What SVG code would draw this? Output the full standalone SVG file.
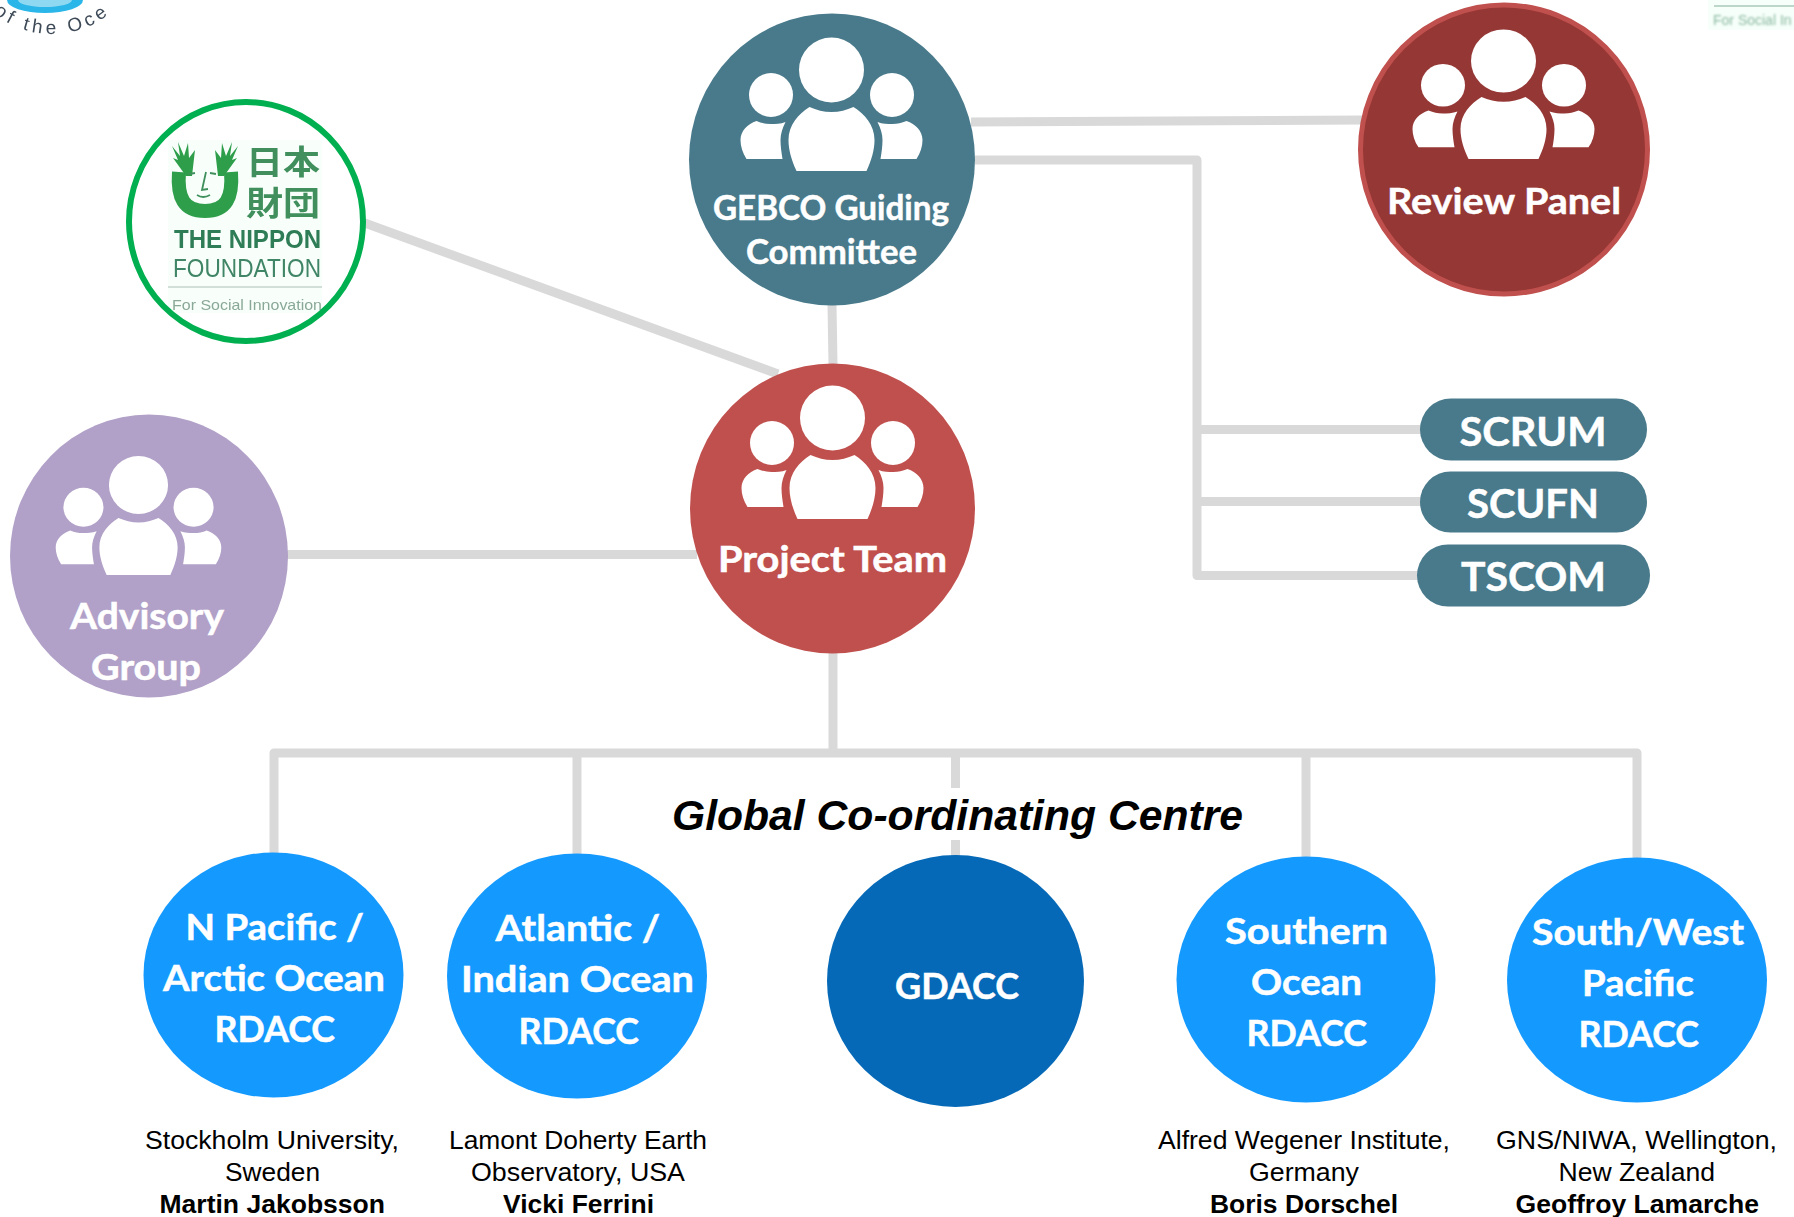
<svg xmlns="http://www.w3.org/2000/svg" xmlns:xlink="http://www.w3.org/1999/xlink" width="1794" height="1217" viewBox="0 0 1794 1217">
<style>
.c{fill:none;stroke:#d9d9d9;stroke-width:9;stroke-linejoin:round}
.w{font-family:"Lato","Noto Sans",sans-serif;font-weight:700;fill:#fff;stroke:#fff;stroke-width:.5}
.l{font-size:36px}
.p{font-size:41px}
.t{font-family:"Liberation Sans",Arial,sans-serif;font-size:25.500px;fill:#000}
.b{font-weight:700}
.teal{fill:#487a8b}
.blue{fill:#1499ff}
.n{font-family:"Liberation Sans",Arial,sans-serif}
</style>
<defs>
<filter id="soft" x="-10%" y="-10%" width="120%" height="120%"><feGaussianBlur stdDeviation="0.7"/></filter>
<filter id="softer" x="-10%" y="-30%" width="120%" height="160%"><feGaussianBlur stdDeviation="1"/></filter>
<g id="people" fill="#fff">
<circle cx="0" cy="0" r="32.500"/>
<circle cx="-60.500" cy="25" r="22"/>
<circle cx="60.500" cy="25" r="22"/>
<path d="M-35,101 C-40,90 -43,80 -43,70 C-43,55 -33,44 -22,37 C-15,40 -8,42 0,42 C8,42 15,40 22,37 C33,44 43,55 43,70 C43,80 40,90 35,101 Z"/>
<path d="M-85,89 C-89,83 -91,76 -91,70 C-91,61 -84,54 -75,51 C-70,53 -66,54 -61,54 C-56,54 -51,54 -46,52 C-49,58 -51,64 -51,70 C-51,76 -50,83 -49,89 Z"/>
<path d="M85,89 C89,83 91,76 91,70 C91,61 84,54 75,51 C70,53 66,54 61,54 C56,54 51,54 46,52 C49,58 51,64 51,70 C51,76 50,83 49,89 Z"/>
</g>
<path id="arc" d="M-36,-50 A88,84 0 0 0 140,-50"/>
</defs>
<rect width="1794" height="1217" fill="#fff"/>

<g id="connectors">
<path class="c" d="M971,122 L1362,120"/>
<path class="c" d="M975,160 H1197 V575.500 H1420"/>
<path class="c" d="M1197,429.500 H1422"/>
<path class="c" d="M1197,501.500 H1422"/>
<path class="c" d="M832,305 L833,364"/>
<path class="c" d="M362,222 L778,374"/>
<path class="c" d="M286,554.500 H697"/>
<path class="c" d="M833,652 V753"/>
<path class="c" d="M274,856 V753 H1637 V858"/>
<path class="c" d="M577,856 V753"/>
<path class="c" d="M1306,858 V753"/>
<path class="c" d="M955.500,753 V788"/>
<path class="c" d="M955.500,840 V858"/>
</g>

<g id="logo-ocean">
<path d="M7,0 A38,13 0 0 0 83,0 Z" fill="#2ab6e8"/>
<path d="M18,0 A27,7 0 0 0 72,0 Z" fill="#8fd8f2"/>
<text class="n" font-size="19" fill="#3d4a57" letter-spacing="4" filter="url(#soft)"><textPath href="#arc" xlink:href="#arc" startOffset="53">t of the Oce</textPath></text>
</g>

<g id="logo-right">
<rect x="1708" y="0" width="86" height="30" fill="#f6fffa"/>
<line x1="1714" y1="6" x2="1794" y2="6" stroke="#a9c9b8" stroke-width="1.500"/>
<text class="n" x="1713" y="25" font-size="14" fill="#8ab8a0" filter="url(#softer)">For Social In</text>
</g>

<g id="nippon">
<ellipse cx="246" cy="221.500" rx="117" ry="119.500" fill="#fff"/>
<rect x="168" y="140" width="154" height="173" fill="#f8fffb"/>
<g filter="url(#soft)">
<path d="M179,172 C177,198 184,211 205,211 C226,211 233,198 231,172" fill="none" stroke="#2f9e4c" stroke-width="14"/>
<path d="M186,176 L173,158 L178,160 L172,146 L180,156 L178,142 L184,156 L188,143 L189,158 L195,150 L192,176 Z" fill="#2f9e4c"/>
<path d="M224,176 L237,158 L232,160 L238,146 L230,156 L232,142 L226,156 L222,143 L221,158 L215,150 L218,176 Z" fill="#2f9e4c"/>
<path d="M189,174 L195,173 M210,173 L216,174 M206,172 L202,190 L208,189 M197,195 Q203,199 210,195" fill="none" stroke="#3f8f5c" stroke-width="1.800"/>
<text x="246" y="174" font-family="'Noto Sans CJK JP',sans-serif" font-size="33" font-weight="700" fill="#3f8f5c" textLength="74" lengthAdjust="spacingAndGlyphs">日本</text>
<text x="246" y="215" font-family="'Noto Sans CJK JP',sans-serif" font-size="33" font-weight="700" fill="#3f8f5c" textLength="74" lengthAdjust="spacingAndGlyphs">財団</text>
<text class="n b" x="174" y="248" font-size="25" fill="#2f7d57" textLength="147" lengthAdjust="spacingAndGlyphs">THE NIPPON</text>
<text class="n" x="173" y="277" font-size="25" fill="#3f8565" textLength="148" lengthAdjust="spacingAndGlyphs">FOUNDATION</text>
<line x1="168" y1="287" x2="322" y2="287" stroke="#c6d4cc" stroke-width="1.500"/>
<text class="n" x="172" y="310" font-size="15" fill="#8aa897" textLength="150" lengthAdjust="spacingAndGlyphs">For Social Innovation</text>
</g>
<ellipse cx="246" cy="221.500" rx="117" ry="119.500" fill="none" stroke="#00b050" stroke-width="6"/>
</g>

<g id="gebco">
<ellipse cx="832" cy="159.500" rx="143" ry="146" class="teal"/>
<use href="#people" xlink:href="#people" x="831.500" y="70"/>
<text class="w" x="713" y="219.500" font-size="34" textLength="236" lengthAdjust="spacingAndGlyphs">GEBCO Guiding</text>
<text class="w" x="746" y="264" font-size="34" textLength="171" lengthAdjust="spacingAndGlyphs">Committee</text>
</g>

<g id="review">
<ellipse cx="1504" cy="149.500" rx="143.500" ry="144.500" fill="#953735" stroke="#c0504d" stroke-width="5"/>
<use href="#people" xlink:href="#people" transform="translate(1503.500,61) scale(1,.97)"/>
<text class="w" x="1387" y="214" font-size="37" textLength="234" lengthAdjust="spacingAndGlyphs">Review Panel</text>
</g>

<g id="project">
<ellipse cx="832.500" cy="508.500" rx="142.500" ry="145" fill="#c0504d"/>
<use href="#people" xlink:href="#people" x="832.500" y="418"/>
<text class="w" x="718" y="572" font-size="36" textLength="229" lengthAdjust="spacingAndGlyphs">Project Team</text>
</g>

<g id="advisory">
<ellipse cx="149" cy="556" rx="139" ry="141.500" fill="#b1a0c7"/>
<use href="#people" xlink:href="#people" transform="translate(138.500,485) scale(.91,.89)"/>
<text class="w" x="70" y="629" font-size="36" textLength="154" lengthAdjust="spacingAndGlyphs">Advisory</text>
<text class="w" x="91" y="680" font-size="36" textLength="110" lengthAdjust="spacingAndGlyphs">Group</text>
</g>

<g id="scrum">
<rect x="1420" y="398.500" width="227" height="62" rx="31" class="teal"/>
<text class="w p" x="1459.500" y="446" textLength="147" lengthAdjust="spacingAndGlyphs">SCRUM</text>
</g>
<g id="scufn">
<rect x="1420" y="471.500" width="227" height="61" rx="30.500" class="teal"/>
<text class="w p" x="1467" y="518" textLength="132" lengthAdjust="spacingAndGlyphs">SCUFN</text>
</g>
<g id="tscom">
<rect x="1417" y="544.500" width="233" height="62" rx="31" class="teal"/>
<text class="w p" x="1461" y="591" textLength="145" lengthAdjust="spacingAndGlyphs">TSCOM</text>
</g>

<text id="gcc" class="n" x="672" y="830" font-size="42.500" font-weight="700" font-style="italic" fill="#000" textLength="571" lengthAdjust="spacingAndGlyphs">Global Co-ordinating Centre</text>

<g id="npacific">
<ellipse cx="273.500" cy="975" rx="130" ry="122.500" class="blue"/>
<text class="w l" x="185.500" y="940" textLength="178.500" lengthAdjust="spacingAndGlyphs">N Pacific /</text>
<text class="w l" x="163" y="991" textLength="222" lengthAdjust="spacingAndGlyphs">Arctic Ocean</text>
<text class="w l" x="214.500" y="1042" textLength="120.500" lengthAdjust="spacingAndGlyphs">RDACC</text>
<text class="t" x="145" y="1149" textLength="254" lengthAdjust="spacingAndGlyphs">Stockholm University,</text>
<text class="t" x="225" y="1181" textLength="95" lengthAdjust="spacingAndGlyphs">Sweden</text>
<text class="t b" x="159.500" y="1213" textLength="225.500" lengthAdjust="spacingAndGlyphs">Martin Jakobsson</text>
</g>

<g id="atlantic">
<ellipse cx="577" cy="976" rx="130" ry="122.500" class="blue"/>
<text class="w l" x="495.500" y="941" textLength="164.500" lengthAdjust="spacingAndGlyphs">Atlantic /</text>
<text class="w l" x="461" y="992" textLength="233" lengthAdjust="spacingAndGlyphs">Indian Ocean</text>
<text class="w l" x="518.500" y="1044" textLength="120.500" lengthAdjust="spacingAndGlyphs">RDACC</text>
<text class="t" x="449" y="1149" textLength="258" lengthAdjust="spacingAndGlyphs">Lamont Doherty Earth</text>
<text class="t" x="471" y="1181" textLength="214" lengthAdjust="spacingAndGlyphs">Observatory, USA</text>
<text class="t b" x="503" y="1213" textLength="151" lengthAdjust="spacingAndGlyphs">Vicki Ferrini</text>
</g>

<g id="gdacc">
<ellipse cx="955.500" cy="981" rx="128.500" ry="126" fill="#0569b7"/>
<text class="w l" x="895" y="999" textLength="124" lengthAdjust="spacingAndGlyphs">GDACC</text>
</g>

<g id="southern">
<ellipse cx="1306" cy="979.500" rx="129.500" ry="123" class="blue"/>
<text class="w l" x="1225" y="944" textLength="163" lengthAdjust="spacingAndGlyphs">Southern</text>
<text class="w l" x="1251" y="995" textLength="111" lengthAdjust="spacingAndGlyphs">Ocean</text>
<text class="w l" x="1246.500" y="1046" textLength="120.500" lengthAdjust="spacingAndGlyphs">RDACC</text>
<text class="t" x="1158" y="1149" textLength="292" lengthAdjust="spacingAndGlyphs">Alfred Wegener Institute,</text>
<text class="t" x="1249" y="1181" textLength="110" lengthAdjust="spacingAndGlyphs">Germany</text>
<text class="t b" x="1210" y="1213" textLength="188" lengthAdjust="spacingAndGlyphs">Boris Dorschel</text>
</g>

<g id="southwest">
<ellipse cx="1637" cy="980" rx="130" ry="122.500" class="blue"/>
<text class="w l" x="1532" y="945" textLength="212" lengthAdjust="spacingAndGlyphs">South/West</text>
<text class="w l" x="1582" y="996" textLength="112" lengthAdjust="spacingAndGlyphs">Pacific</text>
<text class="w l" x="1578.500" y="1047" textLength="120.500" lengthAdjust="spacingAndGlyphs">RDACC</text>
<text class="t" x="1496" y="1149" textLength="281" lengthAdjust="spacingAndGlyphs">GNS/NIWA, Wellington,</text>
<text class="t" x="1558.500" y="1181" textLength="156.500" lengthAdjust="spacingAndGlyphs">New Zealand</text>
<text class="t b" x="1515.500" y="1213" textLength="243.500" lengthAdjust="spacingAndGlyphs">Geoffroy Lamarche</text>
</g>
</svg>
